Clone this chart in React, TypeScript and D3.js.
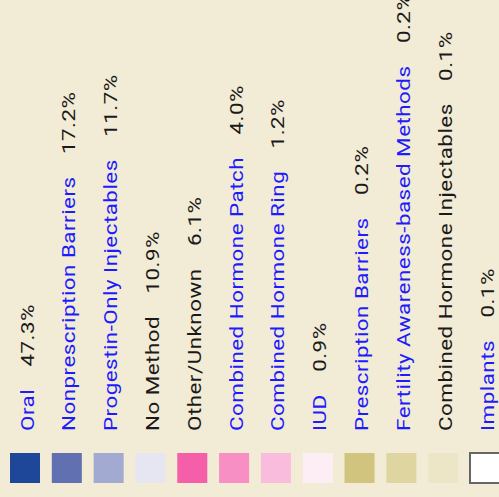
import React from "react";
import * as d3 from "d3";

const methods = [
  "Oral",
  "Nonprescription Barriers",
  "Progestin-Only Injectables",
  "No Method",
  "Other/Unknown",
  "Combined Hormone Patch",
  "Combined Hormone Ring",
  "IUD",
  "Prescription Barriers",
  "Fertility Awareness-based Methods",
  "Combined Hormone Injectables",
  "Implants",
];
const shares = [47.3, 17.2, 11.7, 10.9, 6.1, 4.0, 1.2, 0.9, 0.2, 0.2, 0.1, 0.1];
const swatches = [
  "#1f4799",
  "#6170b1",
  "#a3aad1",
  "#e6e5f2",
  "#f55ea8",
  "#f78fc5",
  "#f9bcdc",
  "#fdedf4",
  "#d1c47e",
  "#ded5a0",
  "#ede6c6",
  "#ffffff",
];
// linked entries are drawn blue, the rest black
const linked = [true, true, true, false, false, true, true, true, true, true, false, true];

const App = () => {
  const width = 499;
  const height = 497;
  const size = 30;
  const x = d3.scaleLinear().domain([0, methods.length - 1]).range([10, 470]);
  const textY = 431;
  const boxY = 453;

  return (
    <svg
      width={width}
      height={height}
      style={{ position: "fixed", left: 0, top: 0, background: "#f2ebd5" }}
    >
      <rect width={width} height={height} fill="#f2ebd5" />
      {methods.map((m, i) => (
        <g key={m}>
          <text
            transform={`translate(${x(i) + 23.5},${textY}) rotate(-90) scale(1.18,1)`}
            fontFamily="Roboto"
            fontSize={19}
            letterSpacing={0.4}
          >
            <tspan fill={linked[i] ? "#1c1cff" : "#1a1a1a"}>{m}</tspan>
            <tspan dx={19} fill="#1a1a1a">
              {shares[i].toFixed(1)}%
            </tspan>
          </text>
          <rect
            x={x(i)}
            y={boxY}
            width={size}
            height={size}
            fill={swatches[i]}
            stroke={i === methods.length - 1 ? "#666" : "none"}
            strokeWidth={2}
          />
        </g>
      ))}
    </svg>
  );
};

export default App;
